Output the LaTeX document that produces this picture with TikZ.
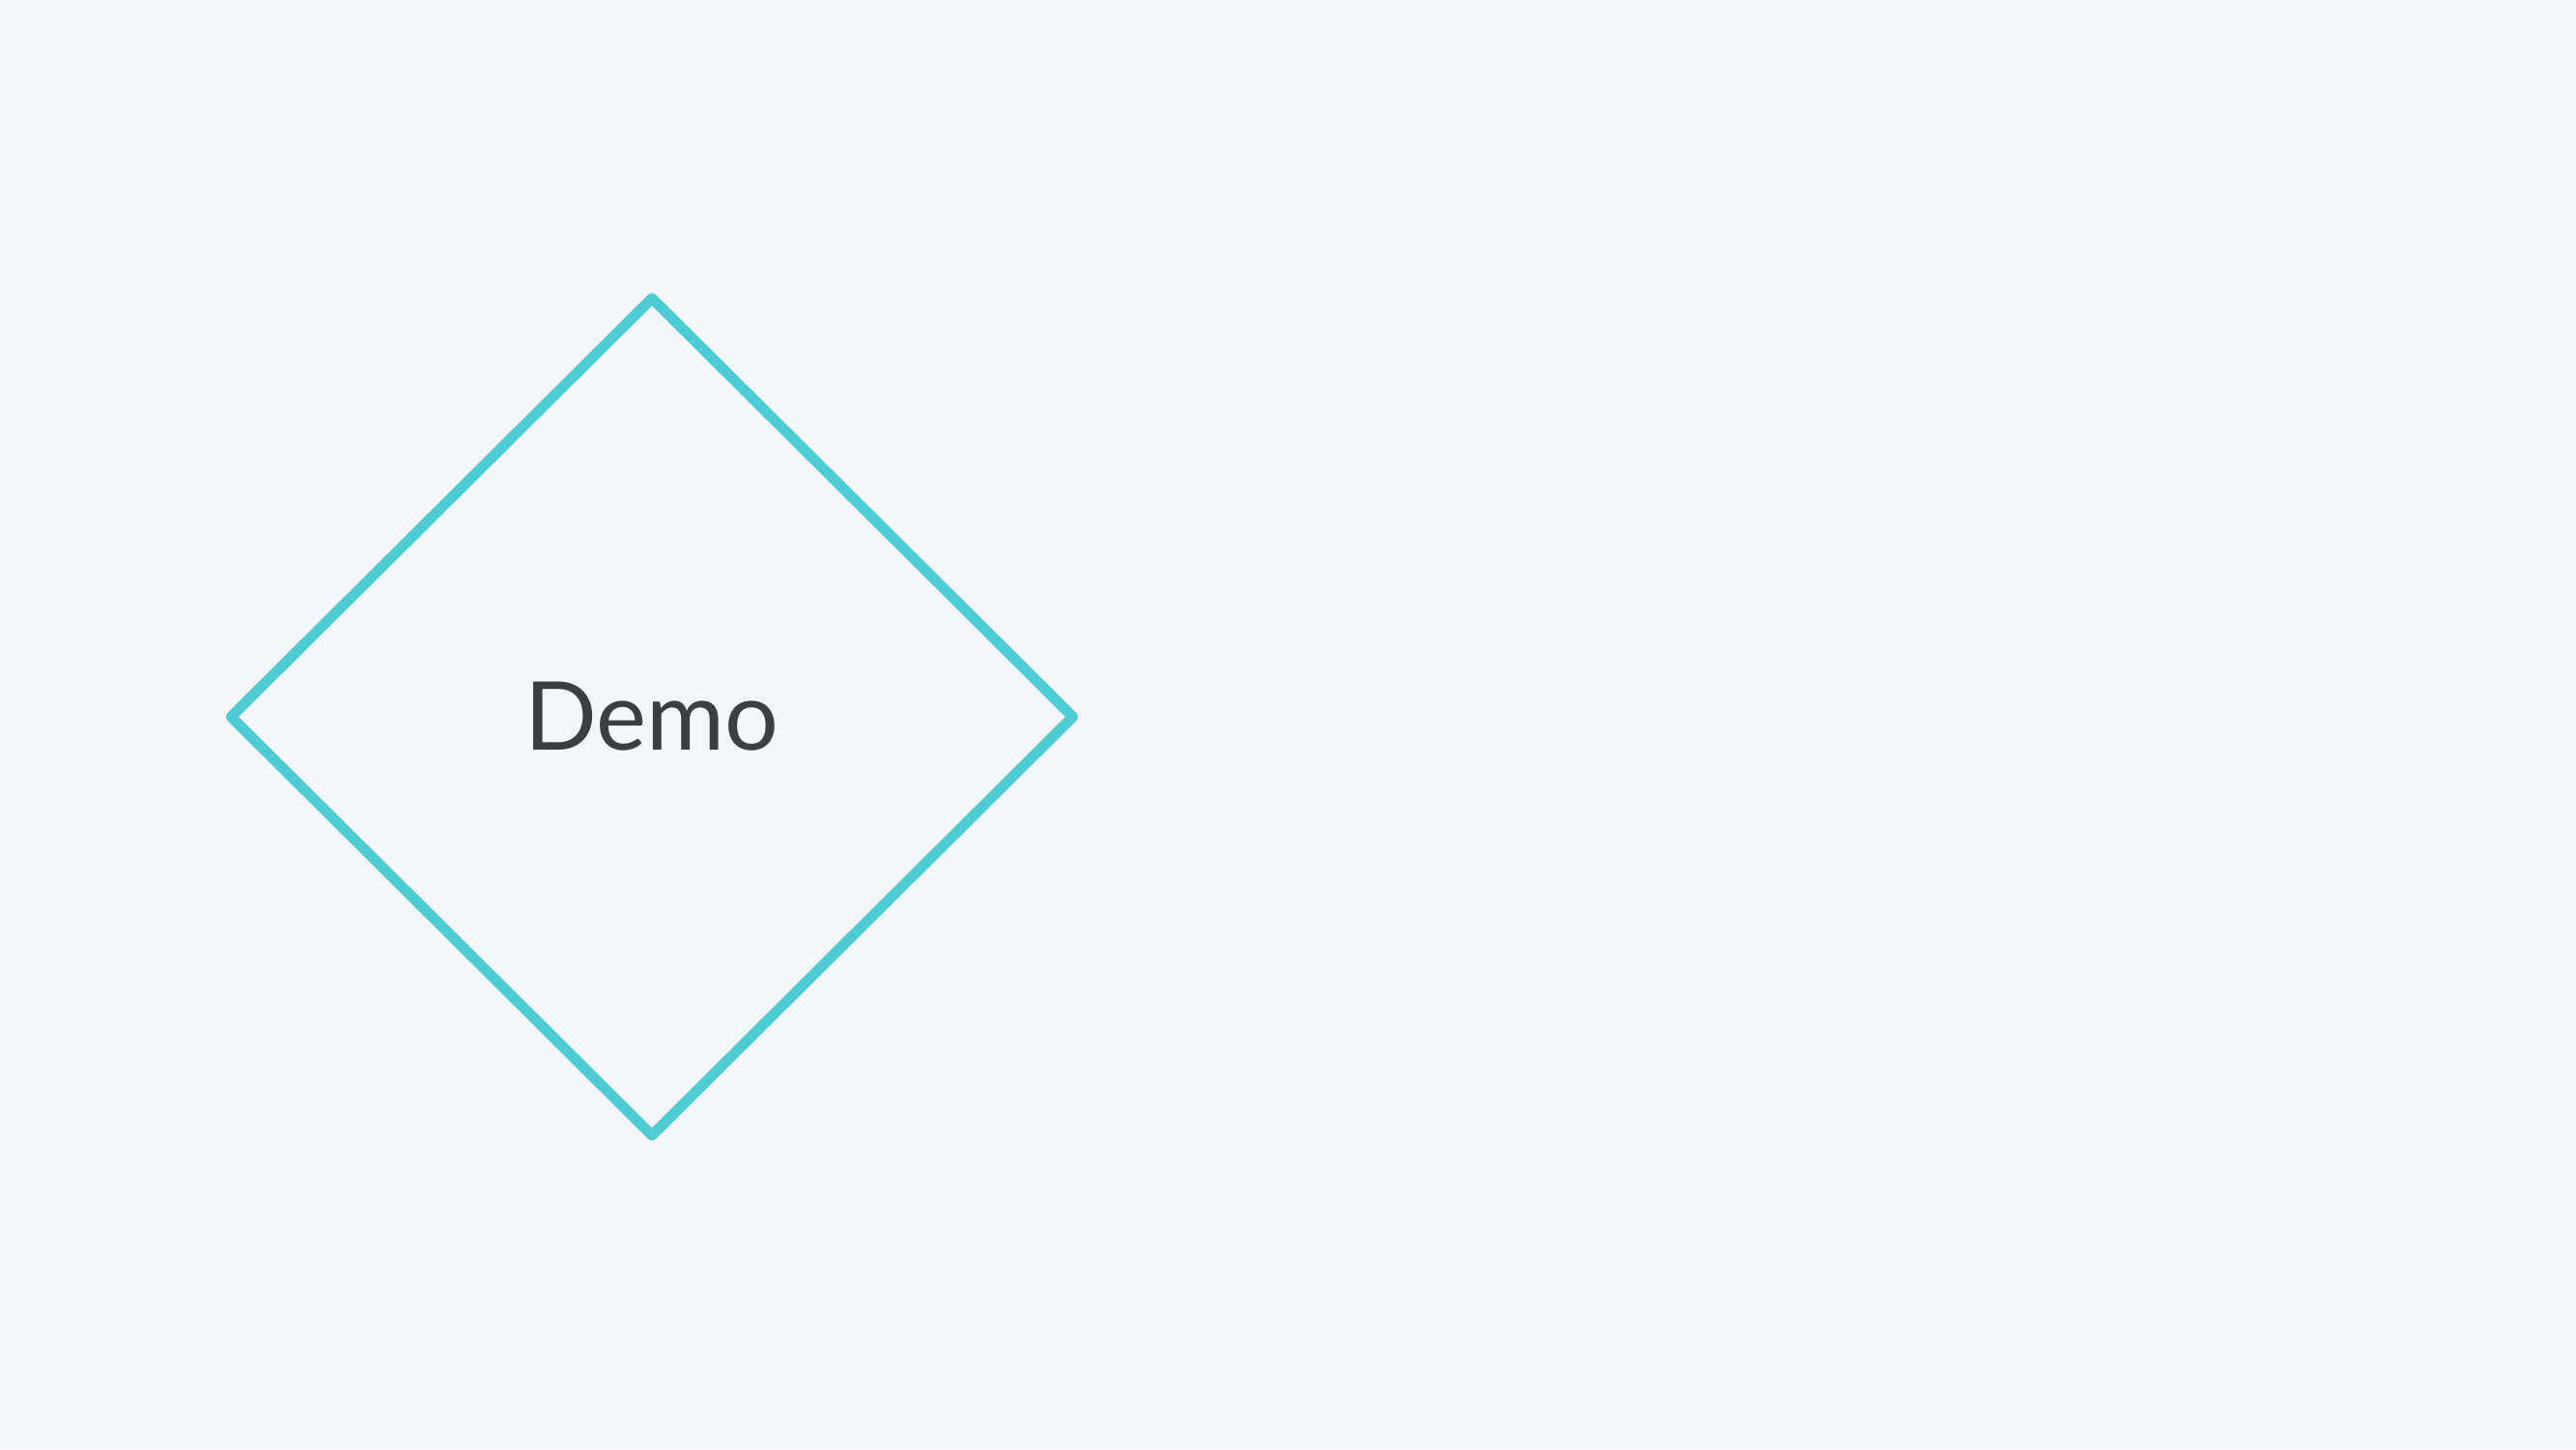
\documentclass[tikz,border=0pt]{standalone}
\usepackage{fontspec}
\setmainfont{Lato}
\usetikzlibrary{shapes.geometric}
\definecolor{bgcol}{HTML}{F3F7FC}
\definecolor{edgecol}{HTML}{4ECCD3}
\definecolor{txtcol}{HTML}{3C3F42}
\tikzset{
  decision/.style={diamond, draw=edgecol, line width=3.1pt, line join=round,
    inner sep=0pt, minimum width=8.76cm, minimum height=8.71cm,
    text=txtcol, font=\fontsize{28}{34}\selectfont}
}
\begin{document}
\begin{tikzpicture}
  \fill[bgcol] (0,0) rectangle (26.67,15);
  \useasboundingbox (0,0) rectangle (26.67,15);
  \node[decision] (demo) at (6.75,7.58) {Demo};
\end{tikzpicture}
\end{document}
